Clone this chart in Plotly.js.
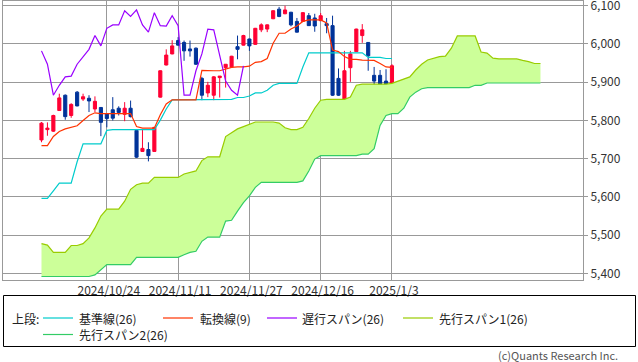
<!DOCTYPE html>
<html>
<head>
<meta charset="utf-8">
<script src="https://cdn.plot.ly/plotly-3.0.1.min.js"></script>
<style>
  html, body { margin: 0; padding: 0; background: #ffffff; }
  #chart { width: 638px; height: 362px; }
</style>
</head>
<body>
<div id="chart"></div>
<script>
// ---- data ----
const tickIdx = [11, 23, 35, 47, 59];
const tickLabels = ["2024/10/24", "2024/11/11", "2024/11/27", "2024/12/16", "2025/1/3"];

const openP = [5749, 5776, 5772, 5826, 5866, 5813, 5874, 5856, 5858, 5830,
               5834, 5818, 5828, 5832, 5816, 5832, 5774, 5719, 5724, 5719,
               5861, 5945, 5974, 6009, 6004, 5987, 5989, 5910, 5872, 5866,
               5912, 5938, 5940, 5993, 5997, 6013, 5999, 6037, 6039, 6066,
               6091, 6079, 6083, 6059, 6059, 6074, 6068, 6061, 6053, 6048,
               5910, 5842, 5938, 5980, 6022, 6004, 5918, 5918, 5903, 5886];
const highP = [5796, 5795, 5815, 5870, 5868, 5845, 5877, 5870, 5866, 5863,
               5835, 5819, 5861, 5837, 5848, 5852, 5775, 5776, 5743, 5782,
               5931, 5986, 6010, 6018, 6009, 6009, 5991, 5914, 5901, 5916,
               5916, 5947, 5969, 6022, 6024, 6014, 6042, 6054, 6051, 6088,
               6097, 6100, 6084, 6068, 6083, 6081, 6079, 6081, 6068, 6074,
               5936, 5982, 5982, 6040, 6052, 6005, 5940, 5932, 5934, 5947];
const lowP  = [5743, 5760, 5770, 5826, 5802, 5807, 5837, 5851, 5822, 5822,
               5759, 5782, 5800, 5813, 5798, 5808, 5702, 5718, 5693, 5718,
               5860, 5944, 5973, 5996, 5956, 5967, 5945, 5853, 5861, 5853,
               5860, 5886, 5939, 5960, 5996, 5982, 5998, 6031, 6031, 6065,
               6070, 6078, 6046, 6030, 6058, 6047, 6032, 6060, 6028, 5864,
               5864, 5829, 5901, 5979, 6003, 5930, 5866, 5866, 5826, 5883];
const closeP = [5793, 5780, 5813, 5859, 5810, 5842, 5838, 5862, 5851, 5850,
                5795, 5805, 5806, 5821, 5832, 5810, 5704, 5727, 5708, 5782,
                5930, 5971, 5995, 5997, 5982, 5982, 5947, 5866, 5892, 5914,
                5916, 5947, 5968, 5986, 6022, 5995, 6041, 6050, 6050, 6087,
                6072, 6089, 6050, 6031, 6082, 6048, 6047, 6074, 6048, 5866,
                5866, 5930, 5974, 6039, 6037, 5969, 5903, 5879, 5866, 5943];

// 基準線(26)
const kijun = [5596, 5596, 5616, 5636, 5636, 5636, 5692, 5739, 5739, 5739,
               5739, 5774, 5776, 5776, 5776, 5776, 5776, 5776, 5776, 5776,
               5801, 5830, 5854, 5854, 5854, 5854, 5854, 5854, 5854, 5854,
               5855, 5855, 5855, 5860, 5860, 5864, 5872, 5872, 5879, 5892,
               5897, 5897, 5897, 5897, 5940, 5977, 5977, 5977, 5977, 5977,
               5977, 5977, 5977, 5977, 5977, 5965, 5965, 5965, 5962, 5962];
// 転換線(9)
const tenkan = [5734, 5734, 5758, 5771, 5778, 5781, 5786, 5800, 5813, 5820,
                5818, 5818, 5818, 5818, 5818, 5818, 5784, 5780, 5780, 5780,
                5815, 5843, 5854, 5854, 5854, 5854, 5854, 5931, 5930, 5930,
                5930, 5934, 5939, 5940, 5940, 5942, 5952, 5954, 5962, 6002,
                6028, 6028, 6039, 6047, 6059, 6063, 6063, 6063, 6055, 5984,
                5980, 5967, 5960, 5960, 5958, 5958, 5957, 5949, 5940, 5939];
// 遅行スパン(26)
const chikou = [5982, 5947, 5866, 5892, 5914, 5916, 5947, 5968, 5986, 6022,
                5995, 6041, 6050, 6050, 6087, 6072, 6089, 6050, 6031, 6082,
                6048, 6047, 6074, 6048, 5866, 5866, 5930, 5974, 6039, 6037,
                5969, 5903, 5879, 5866, 5943];
// 先行スパン1(26)
const senkouA = [5478, 5474, 5455, 5455, 5455, 5473, 5473, 5478, 5493, 5519,
                 5550, 5568, 5568, 5568, 5589, 5620, 5632, 5636, 5636, 5651,
                 5651, 5651, 5651, 5651, 5660, 5664, 5668, 5695, 5705, 5705,
                 5705, 5758, 5769, 5778, 5784, 5790, 5796, 5796, 5796, 5796,
                 5793, 5781, 5776, 5776, 5782, 5805, 5832, 5853, 5855, 5855,
                 5855, 5855, 5861, 5892, 5895, 5895, 5895, 5895, 5895, 5897,
                 5903, 5910, 5914, 5932, 5947, 5958, 5963, 5967, 5968, 5989,
                 6021, 6021, 6021, 6021, 5979, 5976, 5963, 5961, 5961, 5961,
                 5961, 5957, 5954, 5949, 5949];
// 先行スパン2(26)
const senkouB = [5392, 5392, 5392, 5392, 5392, 5392, 5392, 5392, 5392, 5396,
                 5410, 5423, 5423, 5423, 5423, 5423, 5442, 5442, 5442, 5442,
                 5442, 5442, 5442, 5442, 5449, 5455, 5458, 5484, 5495, 5495,
                 5495, 5537, 5539, 5563, 5585, 5603, 5625, 5638, 5638, 5638,
                 5638, 5638, 5638, 5638, 5642, 5668, 5699, 5708, 5708, 5708,
                 5708, 5708, 5708, 5708, 5712, 5712, 5726, 5787, 5813, 5818,
                 5818, 5832, 5861, 5874, 5883, 5886, 5886, 5886, 5886, 5886,
                 5886, 5886, 5886, 5892, 5892, 5898, 5898, 5898, 5898, 5898,
                 5898, 5898, 5898, 5898, 5898];

const legendNames = ["基準線(26)", "転換線(9)", "遅行スパン(26)", "先行スパン1(26)", "先行スパン2(26)"];
const legendColors = ["#00CCCC", "#FF3300", "#9900FF", "#99CC00", "#33CC66"];

// ---- build ----
const idx = arr => arr.map((_, i) => i);
const FONT = '"Noto Sans CJK JP", "Noto Sans", sans-serif';
const LW = 1.2;

const traces = [
  { type: 'scatter', mode: 'lines', x: idx(senkouB), y: senkouB,
    line: { color: legendColors[4], width: LW }, hoverinfo: 'skip', showlegend: false },
  { type: 'scatter', mode: 'lines', x: idx(senkouA), y: senkouA, fill: 'tonexty',
    fillcolor: '#CCFF99', line: { color: legendColors[3], width: LW }, hoverinfo: 'skip', showlegend: false },
  { type: 'scatter', mode: 'lines', x: idx(kijun), y: kijun,
    line: { color: legendColors[0], width: LW }, hoverinfo: 'skip', showlegend: false },
  { type: 'scatter', mode: 'lines', x: idx(tenkan), y: tenkan,
    line: { color: legendColors[1], width: LW }, hoverinfo: 'skip', showlegend: false },
  { type: 'scatter', mode: 'lines', x: idx(chikou), y: chikou,
    line: { color: legendColors[2], width: LW }, hoverinfo: 'skip', showlegend: false },
  { type: 'candlestick', x: idx(closeP), open: openP, high: highP, low: lowP, close: closeP,
    increasing: { line: { color: '#FF0033', width: 1 }, fillcolor: '#FF0033' },
    decreasing: { line: { color: '#003399', width: 1 }, fillcolor: '#003399' },
    whiskerwidth: 0, hoverinfo: 'none', showlegend: false }
];

// plot area in pixels: left 3, right 583, top 1, bottom 280
const PL = 3, PR = 583, PT = 1, PB = 280;
const px = x => (x - PL) / (PR - PL);
const py = y => (PB - y) / (PB - PT);

const shapes = [
  { type: 'rect', xref: 'paper', yref: 'paper', x0: px(3.5), x1: px(635.5), y0: py(295.5), y1: py(346.5),
    line: { color: '#000000', width: 1 }, fillcolor: 'rgba(0,0,0,0)' }
];
const annotations = [
  { xref: 'paper', yref: 'paper', x: px(10), y: py(318), xanchor: 'left', yanchor: 'middle',
    text: '上段:', showarrow: false, font: { family: FONT, size: 12, color: '#222' } },
  { xref: 'paper', yref: 'paper', x: px(619), y: py(354.5), xanchor: 'right', yanchor: 'middle',
    text: '(c)Quants Research Inc.', showarrow: false, borderpad: 0,
    font: { family: FONT, size: 11, color: '#555' } }
];
const legendPos = [
  { lx: 43, ly: 318, tx: 77 },
  { lx: 163, ly: 318, tx: 198 },
  { lx: 267, ly: 318, tx: 300 },
  { lx: 403, ly: 318, tx: 437 },
  { lx: 43, ly: 334.5, tx: 77 }
];
legendNames.forEach((name, k) => {
  const p = legendPos[k];
  shapes.push({ type: 'line', xref: 'paper', yref: 'paper', x0: px(p.lx), x1: px(p.lx + 30),
    y0: py(p.ly), y1: py(p.ly), line: { color: legendColors[k], width: 1.2 } });
  annotations.push({ xref: 'paper', yref: 'paper', x: px(p.tx), y: py(p.ly), xanchor: 'left', yanchor: 'middle',
    text: name, showarrow: false, font: { family: FONT, size: 12, color: '#222' } });
});

const layout = {
  width: 638, height: 362,
  margin: { l: PL, r: 638 - PR, t: PT, b: 362 - PB, autoexpand: false },
  paper_bgcolor: '#ffffff', plot_bgcolor: '#ffffff',
  font: { family: FONT, size: 12, color: '#333' },
  showlegend: false,
  boxgap: 0.25,
  xaxis: {
    range: [-6.48, 91.16], tickvals: tickIdx, ticktext: tickLabels,
    showgrid: true, gridcolor: '#999999', gridwidth: 1, zeroline: false,
    showline: true, mirror: true, linecolor: '#999999', linewidth: 1,
    ticks: '', tickfont: { family: FONT, size: 12, color: '#333' },
    ticklabelshift: 2, ticklabeloverflow: 'allow',
    rangeslider: { visible: false }, fixedrange: true
  },
  yaxis: {
    side: 'right', range: [5382.8, 6112.4], tick0: 5400, dtick: 100, tickformat: ',d',
    showgrid: true, gridcolor: '#999999', gridwidth: 1, zeroline: false,
    showline: true, mirror: true, linecolor: '#999999', linewidth: 1,
    ticks: 'outside', ticklen: 4, tickcolor: '#999999', ticklabeloverflow: 'allow',
    tickfont: { family: FONT, size: 12, color: '#333' }, fixedrange: true
  },
  shapes: shapes,
  annotations: annotations
};

Plotly.newPlot('chart', traces, layout, { staticPlot: true, displayModeBar: false });
</script>
</body>
</html>
